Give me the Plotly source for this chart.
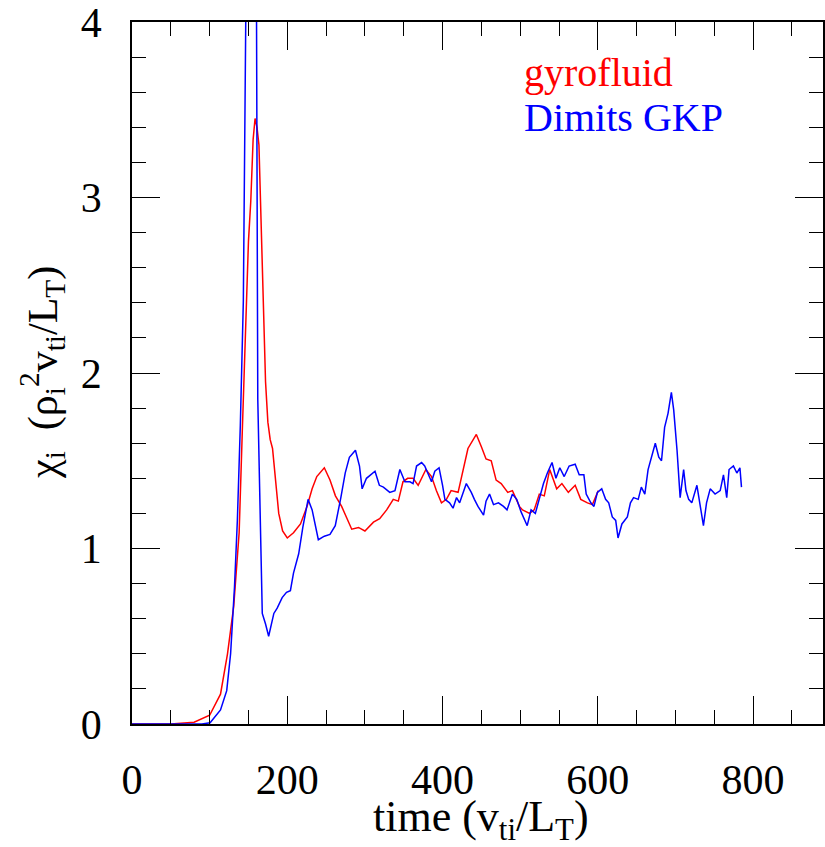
import plotly.graph_objects as go

# gyrofluid (red)
gyro_t = [0, 50, 80, 100, 114, 123, 131, 138, 142, 147.6, 150, 153, 156, 158.5, 161, 163.5, 165.6, 168.6, 172, 175, 178, 181, 185, 189, 194, 200,
          208, 217, 225.5, 232, 238, 247.7, 255, 262, 270, 277, 283, 291.7, 300, 311, 319, 328, 336.5, 343, 349, 355, 362, 368.6,
          378.5, 385.8, 392, 398.6, 405, 411, 420, 432.7, 443.5, 450, 456, 462.7, 469, 475.5, 484, 490, 499, 503, 512, 518,
          524.6, 531, 538, 547, 553.7, 562, 570.8, 578, 586.6, 593, 600.6]
gyro_v = [0, 0.0, 0.01, 0.05, 0.17, 0.40, 0.67, 1.09, 1.66, 2.41, 2.75, 2.98, 3.33, 3.45, 3.40, 3.30, 2.95, 2.41, 1.95, 1.72, 1.62, 1.57, 1.38, 1.20, 1.10, 1.06,
          1.09, 1.14, 1.24, 1.34, 1.41, 1.46, 1.39, 1.30, 1.24, 1.17, 1.11, 1.12, 1.10, 1.15, 1.17, 1.22, 1.28, 1.27, 1.38, 1.40, 1.40, 1.36,
          1.45, 1.41, 1.33, 1.26, 1.28, 1.33, 1.32, 1.57, 1.65, 1.58, 1.51, 1.50, 1.39, 1.37, 1.32, 1.33, 1.24, 1.22, 1.20, 1.22,
          1.31, 1.30, 1.45, 1.34, 1.37, 1.32, 1.36, 1.28, 1.26, 1.25, 1.33]

# Dimits GKP (blue)
gkp_t = [0, 90, 100.6, 114, 122, 127, 132, 135.7, 139.5, 143.4, 146.5, 153, 160.4, 161.2, 162, 165.6, 167.8, 172, 176, 182.7, 187, 193.4, 199, 204,
         208, 214.7, 220, 226.8, 232, 240, 247.7, 255, 261.8, 269, 274.6, 280, 287.8, 293, 296.4, 302, 313, 318.6, 323.8, 332, 338.7,
         345, 351.5, 358, 362, 366.5, 373, 377, 381.4, 385.8, 390, 395.5, 400, 403, 409, 413.5, 418, 422, 430.6, 437, 441, 445.6,
         452.8, 456, 460.5, 465.6, 472, 478.5, 483, 490, 495.5, 501, 509, 514, 519.5, 524.6, 530, 535, 541, 546, 551, 556.7, 563,
         570.8, 576, 582, 585, 591, 595, 599.4, 605, 610, 614, 618.6, 623, 626, 631, 638, 642, 646, 652, 656, 660.5, 664.7, 670,
         674, 678.5, 682, 686, 690.4, 694.7, 697.7, 702, 704, 706, 710.5, 713.5, 717, 721, 727.6, 733, 736, 740, 744.7, 751,
         757.6, 761.8, 766, 769, 774.6, 779, 783, 785]
gkp_v = [0, 0.0, 0.007, 0.08, 0.19, 0.40, 0.78, 1.16, 1.70, 2.41, 4.0, 5.5, 4.0, 3.0, 1.85, 1.09, 0.63, 0.57, 0.50, 0.63, 0.66, 0.72, 0.75, 0.76,
         0.86, 0.97, 1.12, 1.28, 1.22, 1.05, 1.07, 1.08, 1.13, 1.29, 1.43, 1.52, 1.56, 1.47, 1.34, 1.40, 1.44, 1.36, 1.35, 1.32, 1.33,
         1.45, 1.38, 1.38, 1.37, 1.47, 1.49, 1.47, 1.42, 1.38, 1.44, 1.46, 1.36, 1.28, 1.26, 1.23, 1.29, 1.26, 1.37, 1.32, 1.28, 1.24,
         1.19, 1.27, 1.31, 1.25, 1.26, 1.24, 1.22, 1.31, 1.28, 1.21, 1.13, 1.22, 1.20, 1.28, 1.37, 1.43, 1.49, 1.40, 1.46, 1.41, 1.47,
         1.48, 1.42, 1.42, 1.31, 1.26, 1.24, 1.32, 1.34, 1.28, 1.26, 1.18, 1.16, 1.06, 1.14, 1.18, 1.26, 1.29, 1.28, 1.35, 1.31, 1.45, 1.53,
         1.60, 1.52, 1.50, 1.69, 1.77, 1.89, 1.79, 1.56, 1.41, 1.29, 1.45, 1.33, 1.28, 1.26, 1.36, 1.21, 1.13, 1.26, 1.34, 1.31,
         1.33, 1.42, 1.29, 1.45, 1.47, 1.43, 1.46, 1.35]

x_ticks = [0, 200, 400, 600, 800]
y_ticks = [0, 1, 2, 3, 4]

FONT = "Liberation Serif"

fig = go.Figure()
fig.add_trace(go.Scatter(x=gyro_t, y=gyro_v, mode="lines", line=dict(color="#ff0000", width=1.5),
                         name="gyrofluid", showlegend=False))
fig.add_trace(go.Scatter(x=gkp_t, y=gkp_v, mode="lines", line=dict(color="#0000ff", width=1.5),
                         name="Dimits GKP", showlegend=False))

axis_common = dict(
    showgrid=False, zeroline=False, showline=True, linecolor="black", linewidth=1.5,
    mirror="allticks", ticks="inside", ticklen=28, tickwidth=1.2, tickcolor="black",
    tickfont=dict(family=FONT, size=42, color="black"), ticklabeloverflow="allow",
)

fig.update_xaxes(range=[0, 890], tickvals=x_ticks, ticklabelstandoff=18,
                 minor=dict(dtick=50, tick0=0, ticks="inside", ticklen=14, tickwidth=1.2, tickcolor="black"),
                 **axis_common)
fig.update_yaxes(range=[0, 4], tickvals=y_ticks, ticklabelstandoff=20,
                 minor=dict(dtick=0.2, tick0=0, ticks="inside", ticklen=14, tickwidth=1.2, tickcolor="black"),
                 **axis_common)

annotations = [
    dict(text="time (v<sub>ti</sub>/L<sub>T</sub>)", xref="paper", yref="paper", x=0.505, y=0,
         yshift=-95, xanchor="center", yanchor="middle", showarrow=False,
         font=dict(family=FONT, size=44, color="black")),
    dict(text="χ<sub>i</sub>  (ρ<sub>i</sub><sup>2</sup>v<sub>ti</sub>/L<sub>T</sub>)", xref="paper", yref="paper",
         x=0, y=0.5, xshift=-90, textangle=-90, xanchor="center", yanchor="middle", showarrow=False,
         font=dict(family=FONT, size=42, color="black")),
    dict(text="gyrofluid", xref="paper", yref="paper", x=0.564, y=1, yshift=-50,
         xanchor="left", yanchor="middle", showarrow=False, font=dict(family=FONT, size=40, color="#ff0000")),
    dict(text="Dimits GKP", xref="paper", yref="paper", x=0.564, y=1, yshift=-95,
         xanchor="left", yanchor="middle", showarrow=False, font=dict(family=FONT, size=40, color="#0000ff")),
]

fig.update_layout(
    width=825, height=847,
    margin=dict(l=132, r=0, t=22, b=123),
    paper_bgcolor="white", plot_bgcolor="white",
    showlegend=False,
    annotations=annotations,
)

fig.write_html("out.html")
